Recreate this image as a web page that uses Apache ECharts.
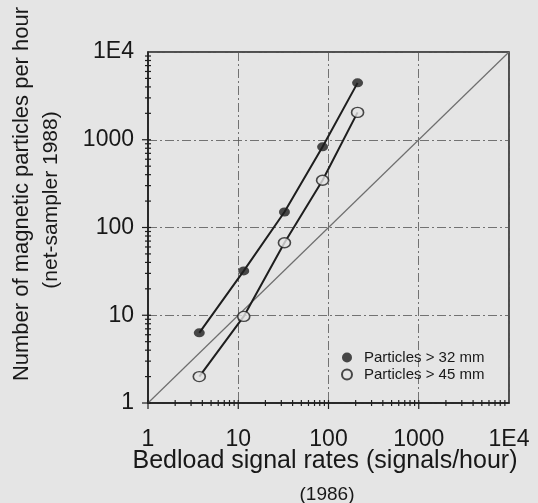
<!DOCTYPE html>
<html>
<head>
<meta charset="utf-8">
<script src="https://cdn.jsdelivr.net/npm/echarts@6/dist/echarts.min.js"></script>
<style>
  html, body { margin: 0; padding: 0; background: #e5e5e5; }
  #chart { width: 538px; height: 503px; }
</style>
</head>
<body>
<div id="chart"></div>
<script>
// Bedload signal rates (1986) vs. magnetic particles caught by the net sampler (1988)
const signalRates = [3.7, 11.5, 32.5, 86, 210];
const particles32 = [6.3, 32, 150, 830, 4450];
const particles45 = [2.0, 9.7, 67, 345, 2050];
const tickLabels = ['1', '10', '100', '1000', '1E4'];
const seriesNames = ['Particles > 32 mm', 'Particles > 45 mm'];
const axisMin = 1;
const axisMax = 10000;

const ink = '#1e1e1e';
const bg = '#e5e5e5';
const font = '"Liberation Sans", Arial, sans-serif';

const pairs = ys => signalRates.map((x, i) => [x, ys[i]]);

// Log-axis tick marks at 1..9 x 10^k; kind: 0/1 = x minor/major, 2/3 = y minor/major
const tickMarks = [];
for (let d = axisMin; d < axisMax; d *= 10) {
  for (let m = 1; m <= 9; m++) {
    const v = d * m;
    tickMarks.push([v, axisMin, m === 1 ? 1 : 0]);
    tickMarks.push([axisMin, v, m === 1 ? 3 : 2]);
  }
}

const labelFor = v => tickLabels[Math.round(Math.log10(v))] || '';

const chart = echarts.init(document.getElementById('chart'), null, { renderer: 'canvas' });

const axisCommon = {
  type: 'log',
  logBase: 10,
  min: axisMin,
  max: axisMax,
  axisLine: { show: true, lineStyle: { color: ink, width: 1.5 } },
  axisTick: { show: false },
  splitLine: { show: true, lineStyle: { color: '#555', width: 1, type: [9, 3, 2, 3], opacity: 0.8 } },
  axisLabel: { formatter: labelFor, fontFamily: font, fontSize: 23, color: '#181818' }
};

chart.setOption({
  backgroundColor: bg,
  animation: false,
  grid: {
    left: 148, right: 29, top: 52, bottom: 100,
    show: true, borderColor: ink, borderWidth: 1.5, backgroundColor: 'transparent',
    containLabel: false, outerBoundsMode: 'none'
  },
  xAxis: Object.assign({}, axisCommon, {
    axisLabel: Object.assign({}, axisCommon.axisLabel, { margin: 25 })
  }),
  yAxis: Object.assign({}, axisCommon, {
    axisLabel: Object.assign({}, axisCommon.axisLabel, { margin: 14 })
  }),
  legend: {
    data: seriesNames,
    orient: 'vertical',
    left: 336, top: 345,
    itemWidth: 10, itemHeight: 10, itemGap: 2,
    icon: 'circle',
    selectedMode: false,
    textStyle: { fontFamily: font, fontSize: 15, color: '#181818', padding: [0, 0, 0, 7] }
  },
  graphic: [
    { type: 'text', x: 325, y: 461, z: 10,
      style: { text: 'Bedload signal rates (signals/hour)', font: '25px ' + font, fill: '#181818', align: 'center', verticalAlign: 'middle' } },
    { type: 'text', x: 327, y: 495, z: 10,
      style: { text: '(1986)', font: '19px ' + font, fill: '#181818', align: 'center', verticalAlign: 'middle' } },
    { type: 'text', x: 22, y: 194, rotation: Math.PI / 2, z: 10,
      style: { text: 'Number of magnetic particles per hour', font: '22px ' + font, fill: '#181818', align: 'center', verticalAlign: 'middle' } },
    { type: 'text', x: 51, y: 200, rotation: Math.PI / 2, z: 10,
      style: { text: '(net-sampler 1988)', font: '21px ' + font, fill: '#181818', align: 'center', verticalAlign: 'middle' } }
  ],
  series: [
    {
      type: 'line', name: '1:1', data: [[axisMin, axisMin], [axisMax, axisMax]],
      symbol: 'none', silent: true,
      lineStyle: { color: '#6e6e6e', width: 1.2 }
    },
    {
      type: 'line', name: 'fit32', data: pairs(particles32),
      symbol: 'none', silent: true,
      lineStyle: { color: ink, width: 2 }
    },
    {
      type: 'line', name: 'fit45', data: pairs(particles45),
      symbol: 'none', silent: true,
      lineStyle: { color: ink, width: 2 }
    },
    {
      type: 'scatter', name: seriesNames[0], data: pairs(particles32),
      symbol: 'circle', symbolSize: [11, 9], z: 5,
      itemStyle: { color: ink }
    },
    {
      type: 'scatter', name: seriesNames[1], data: pairs(particles45),
      symbol: 'circle', symbolSize: [12, 10], z: 5,
      itemStyle: { color: bg, borderColor: ink, borderWidth: 1.5 }
    },
    {
      type: 'custom', name: 'ticks', data: tickMarks, clip: false, silent: true, z: 6,
      encode: { x: 0, y: 1 },
      renderItem: function (params, api) {
        const p = api.coord([api.value(0), api.value(1)]);
        const kind = api.value(2);
        const major = kind === 1 || kind === 3;
        const out = major ? 6 : 3;
        const inn = 3;
        const shape = kind < 2
          ? { x1: p[0], y1: p[1] - inn, x2: p[0], y2: p[1] + out }
          : { x1: p[0] - out, y1: p[1], x2: p[0] + inn, y2: p[1] };
        return { type: 'line', shape: shape, style: { stroke: ink, lineWidth: 1.2 } };
      }
    }
  ]
});
</script>
</body>
</html>
